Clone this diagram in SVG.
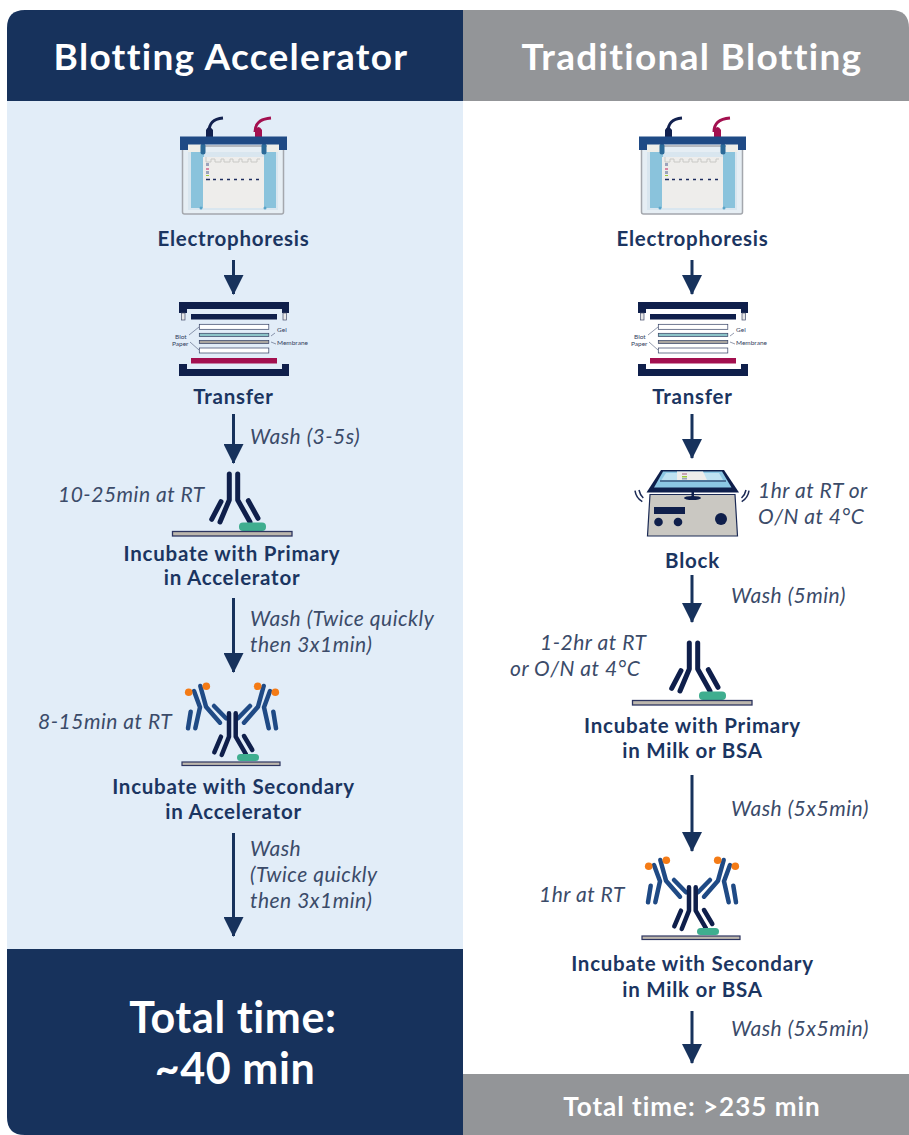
<svg xmlns="http://www.w3.org/2000/svg" xmlns:xlink="http://www.w3.org/1999/xlink" width="909" height="1135" viewBox="0 0 909 1135">
<style>
text{font-family:Lato,"Open Sans","Liberation Sans",sans-serif;font-variant-ligatures:none}
.h{font-weight:700;font-size:37px;letter-spacing:1.3px;fill:#fff;text-anchor:middle}
.b{font-weight:700;font-size:20.5px;letter-spacing:.75px;fill:#1b3561;text-anchor:middle}
.i{font-style:italic;font-size:21px;letter-spacing:.5px;fill:#3b4b69}
.c{fill:none;stroke:#17325c;stroke-width:3}
.m{font-size:6.500px;fill:#33415e}
.t{font-size:43px;font-weight:700;letter-spacing:.6px;fill:#fff;text-anchor:middle}
.ab{fill:none;stroke:#0f1f4b;stroke-linecap:round;stroke-linejoin:round}
.ab2{fill:none;stroke:#1f4a85;stroke-width:4.500;stroke-linecap:round;stroke-linejoin:round}
</style>
<defs>
<marker id="arr" markerUnits="userSpaceOnUse" markerWidth="22" markerHeight="20" refX="19" refY="10" orient="auto"><path d="M0 0L20 10L0 20z" fill="#17325c"/></marker>
<g id="tank">
<path d="M209 132C209 124 212 119 223 118" fill="none" stroke="#12214f" stroke-width="3"/>
<path d="M255 132C255 124 259 119 271 118" fill="none" stroke="#a3104f" stroke-width="3"/>
<path d="M206 137V130Q209 124 213 130V137Z" fill="#12214f"/>
<path d="M255 137V130Q258.500 124 262 130V137Z" fill="#a3104f"/>
<rect x="182.500" y="146" width="101" height="68" rx="2" fill="#e6eef4" stroke="#a4a7ad" stroke-width="1.500"/>
<rect x="188" y="152" width="90" height="58" fill="#d9e6ef"/>
<rect x="191" y="152" width="13" height="56" fill="#8ac3dc"/>
<rect x="264" y="152" width="12" height="56" fill="#8ac3dc"/>
<rect x="203" y="157" width="61" height="51" fill="#eeedeb"/>
<path d="M206 157v5h5v-3h4v3h6v-3h3v3h6v-3h3v3h6v-3h3v3h6v-3h3v3h6v-3h3" fill="none" stroke="#c9c9c6"/>
<rect x="188" y="144" width="13" height="8" fill="#efeee9"/><rect x="267" y="144" width="12" height="8" fill="#efeee9"/>
<path d="M203 146v6M264 146v6" stroke="#2c6a98" stroke-width="5" stroke-linecap="round"/>
<path d="M180 136.500H287V150H279V144.500H188V150H180Z" fill="#1f4a85"/>
<circle cx="201" cy="208" r="1.500" fill="#5aa4c9"/><circle cx="265" cy="208" r="1.500" fill="#5aa4c9"/>
<rect x="206" y="163" width="3" height="3" fill="#9ba3bb"/><rect x="206" y="168.500" width="3" height="1" fill="#c2205c"/><rect x="206" y="171" width="3" height="3" fill="#9ba3bb"/><rect x="206" y="175" width="3" height="1" fill="#9ccb3c"/>
<path d="M206 179.500h4M213 179.500h3M220 179.500h3M227 179.500h3M234 179.500h3M241 179.500h3M249 179.500h3M256 179.500h3" stroke="#1d2c5e" stroke-width="1.500"/>
</g>
<g id="sandwich">
<path d="M179 302H289V313H282V309H187V313H179Z" fill="#0f1f4b"/>
<rect x="181.500" y="313" width="3.500" height="7" fill="#e6e6e6" stroke="#444c6a" stroke-width=".7"/>
<rect x="283" y="313" width="3.500" height="7" fill="#e6e6e6" stroke="#444c6a" stroke-width=".7"/>
<rect x="191" y="314" width="86" height="5.500" fill="#0f1f4b"/>
<rect x="199.300" y="324.300" width="69.500" height="5" fill="#fff" stroke="#333f63" stroke-width=".7"/>
<rect x="199.300" y="333.300" width="69.500" height="3.200" fill="#8cc4c8" stroke="#333f63" stroke-width=".7"/>
<rect x="199.300" y="340.500" width="69.500" height="3" fill="#aaa6a0" stroke="#333f63" stroke-width=".7"/>
<rect x="199.300" y="348" width="69.500" height="5" fill="#fff" stroke="#333f63" stroke-width=".7"/>
<rect x="191" y="358" width="86" height="5.500" fill="#a3104f"/>
<path d="M179 376H289V364H282V369H187V364H179Z" fill="#0f1f4b"/>
<path d="M189 335L199 327M190 342L199 350M271 336L275 333M271 342L276 344" stroke="#4a5675" stroke-width=".6" fill="none"/>
<text class="m" x="175" y="339">Blot</text><text class="m" x="172" y="346">Paper</text><text class="m" x="277" y="332">Gel</text><text class="m" x="277" y="345">Membrane</text>
</g>
<g id="primary">
<path class="ab" stroke-width="5" d="M229.300 474V500L220 522M237.700 474V500L250 522M221 501.700L211.700 519.300M248.300 500.700L258 518.300"/>
<rect x="239" y="522.500" width="27" height="8.500" rx="4" fill="#3fae8f"/>
<rect x="172.500" y="531.500" width="119.500" height="4.500" fill="#bdb7ad" stroke="#2d3560" stroke-width="1.300"/>
</g>
<g id="sec-arm">
<path class="ab2" d="M200.300 686L206 706.700L220 722.700M194 691L200 707.300L195.300 728.300M214 706L226 718.300M190.700 711.700L188 728.300"/>
<circle cx="188.700" cy="692.300" r="3.800" fill="#f47b16"/><circle cx="206.300" cy="686.300" r="3.800" fill="#f47b16"/>
</g>
<g id="secondary">
<use xlink:href="#sec-arm" href="#sec-arm"/>
<use xlink:href="#sec-arm" href="#sec-arm" transform="translate(464 0) scale(-1 1)"/>
<path class="ab" stroke-width="4.500" d="M229 713.300V736.700L221.700 755M235.700 713.300V736.700L246 754.300M221 736.700L214.300 752.300M244 736L252.300 750"/>
<rect x="237" y="754" width="22" height="7" rx="3.500" fill="#3fae8f"/>
<rect x="182" y="762" width="98" height="3.500" fill="#bdb7ad" stroke="#2d3560" stroke-width="1.200"/>
</g>
</defs>

<g id="panels">
<path d="M25 10H463V1135H25Q7 1135 7 1117V28Q7 10 25 10Z" fill="#e2edf8"/>
<path id="hdr-left" d="M25 10H463V101H7V28Q7 10 25 10Z" fill="#17325c"/>
<path id="hdr-right" d="M463 10H891Q909 10 909 28V101H463Z" fill="#939598"/>
<path id="ftr-left" d="M7 949H463V1135H25Q7 1135 7 1117Z" fill="#17325c"/>
<path id="ftr-right" d="M463 1074H909V1135H463Z" fill="#939598"/>
</g>
<g id="connectors">
<path class="c" marker-end="url(#arr)" d="M233.500 260V294"/>
<path class="c" marker-end="url(#arr)" d="M233.500 414V463"/>
<path class="c" marker-end="url(#arr)" d="M233.500 598V672"/>
<path class="c" marker-end="url(#arr)" d="M233.500 833V936"/>
<path class="c" marker-end="url(#arr)" d="M692 260V294"/>
<path class="c" marker-end="url(#arr)" d="M692 414V458"/>
<path class="c" marker-end="url(#arr)" d="M692 575V622"/>
<path class="c" marker-end="url(#arr)" d="M692 775V851"/>
<path class="c" marker-end="url(#arr)" d="M692 1011V1063"/>
</g>
<g id="title-left"><text class="h" x="231" y="70">Blotting Accelerator</text></g>
<g id="title-right"><text class="h" x="692" y="70">Traditional Blotting</text></g>

<g id="l-electrophoresis"><use xlink:href="#tank" href="#tank"/><text class="b" x="233.500" y="246">Electrophoresis</text></g>
<g id="l-transfer"><use xlink:href="#sandwich" href="#sandwich"/><text class="b" x="233.500" y="404">Transfer</text></g>
<g id="l-primary"><use xlink:href="#primary" href="#primary"/><text class="i" x="58" y="502">10-25min at RT</text><text class="b" x="232" y="561">Incubate with Primary</text><text class="b" x="232" y="585">in Accelerator</text></g>
<g id="l-secondary"><use xlink:href="#secondary" href="#secondary"/><text class="i" x="38" y="729">8-15min at RT</text><text class="b" x="233.500" y="794">Incubate with Secondary</text><text class="b" x="233.500" y="819">in Accelerator</text></g>
<g id="l-washes">
<text class="i" x="250" y="444">Wash (3-5s)</text>
<text class="i" x="250" y="626">Wash (Twice quickly</text><text class="i" x="250" y="652">then 3x1min)</text>
<text class="i" x="250" y="856">Wash</text><text class="i" x="250" y="882">(Twice quickly</text><text class="i" x="250" y="908">then 3x1min)</text>
</g>
<g id="l-total"><text class="t" x="233" y="1033">Total time:</text><text class="t" x="235" y="1084">~40 min</text></g>

<g id="r-electrophoresis"><use xlink:href="#tank" href="#tank" x="459"/><text class="b" x="692.500" y="246">Electrophoresis</text></g>
<g id="r-transfer"><use xlink:href="#sandwich" href="#sandwich" x="459"/><text class="b" x="692.500" y="404">Transfer</text></g>
<g id="r-block">
<path d="M635 490.700Q636 498 642.300 501.700M639 490Q640 495 643.300 498M741.700 501.700Q748 498 749 490.700M741.500 498Q745 495 746 490" fill="none" stroke="#1b2a55" stroke-width="1.500"/>
<path d="M650 494.500H735L737.500 536H647.500Z" fill="#cac8c2" stroke="#1b2a55" stroke-width="1.200"/>
<path d="M661 470H724L739 492.500H646.500Z" fill="#0f1f4b"/>
<path d="M663 471.500H722L731.500 487.500H654Z" fill="#8cc7e4"/>
<path d="M666 473H719L723 480H661.500Z" fill="#bfe2f2"/>
<path d="M660 481H726" stroke="#0f1f4b"/>
<path d="M677 471.500H703L707 480H677Z" fill="#eeedeb"/>
<rect x="682" y="473" width="5" height="2" fill="#c9a3b5"/><rect x="682" y="476" width="5" height="1.500" fill="#9ccb3c"/><rect x="682" y="478" width="5" height="1.500" fill="#9ba3bb"/>
<rect x="691.500" y="492" width="2.500" height="6" fill="#0f1f4b"/>
<ellipse cx="692.500" cy="498" rx="8.500" ry="2" fill="#0f1f4b"/>
<rect x="654" y="507" width="31" height="7" fill="#0f1f4b"/>
<circle cx="658.500" cy="522" r="4.300" fill="#0f1f4b"/><circle cx="678" cy="522" r="4.300" fill="#0f1f4b"/><circle cx="721" cy="519" r="6" fill="#0f1f4b"/>
<text class="i" x="758" y="498">1hr at RT or</text><text class="i" x="758" y="524">O/N at 4°C</text>
<text class="b" x="692.500" y="568">Block</text>
</g>
<g id="r-primary"><use xlink:href="#primary" href="#primary" x="460" y="169"/><text class="i" x="540" y="650">1-2hr at RT</text><text class="i" x="510" y="676">or O/N at 4°C</text><text class="b" x="692.500" y="733">Incubate with Primary</text><text class="b" x="692.500" y="758">in Milk or BSA</text></g>
<g id="r-secondary"><use xlink:href="#secondary" href="#secondary" x="460" y="174"/><text class="i" x="539" y="902">1hr at RT</text><text class="b" x="692.500" y="971">Incubate with Secondary</text><text class="b" x="692.500" y="997">in Milk or BSA</text></g>
<g id="r-washes">
<text class="i" x="731" y="603">Wash (5min)</text><text class="i" x="731" y="816">Wash (5x5min)</text><text class="i" x="731" y="1036">Wash (5x5min)</text>
</g>
<g id="r-total"><text x="692" y="1116" font-size="26" font-weight="700" letter-spacing="1" fill="#fff" text-anchor="middle">Total time: &gt;235 min</text></g>
</svg>
